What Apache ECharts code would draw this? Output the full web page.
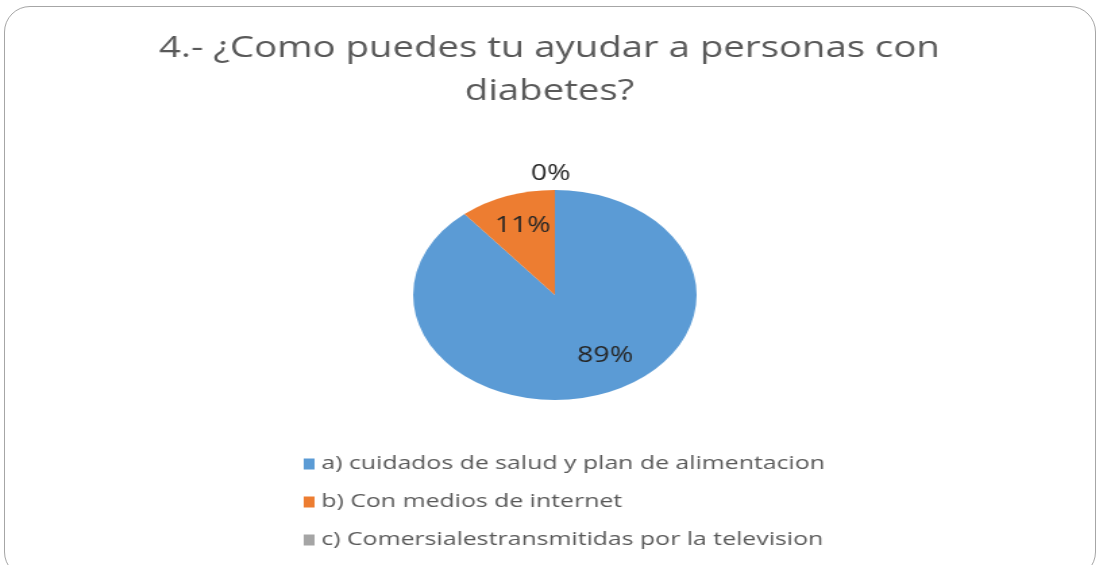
<!DOCTYPE html>
<html>
<head>
<meta charset="utf-8">
<script src="https://cdn.jsdelivr.net/npm/echarts@6/dist/echarts.min.js"></script>
<style>
  html, body { margin: 0; padding: 0; background: #fff; overflow: hidden; }
  #frame {
    position: absolute; left: 4px; top: 6px; width: 1092px; height: 572px;
    border: 1px solid #a6a6a6; border-radius: 26px; box-sizing: border-box;
  }
  /* the original picture is stretched sideways, so the chart is too */
  #chart {
    position: absolute; left: 0; top: 0; width: 814px; height: 565px;
    transform: scaleX(1.35); transform-origin: 0 0;
  }
</style>
</head>
<body>
<div id="frame"></div>
<div id="chart"></div>
<script>
const titleText = '4.- ¿Como puedes tu ayudar a personas con\ndiabetes?';
const categories = [
  'a) cuidados de salud y plan de alimentacion',
  'b) Con medios de internet',
  'c) Comersialestransmitidas por la television'
];
const values = [89, 11, 0];
const colors = ['#5b9bd5', '#ed7d31', '#a5a5a5'];

// nudges so the percent labels sit where the original puts them
const labelPads = [[0, 0, 0, 37], [0, 10, 0, 0], [0, 0, 0, 0]];
const labelFormats = ['\n{d}%', '{d}%\n', '{d}%'];
const labelLineHeights = [17, 33, 21];

const chart = echarts.init(document.getElementById('chart'));

const pieData = categories.map(function (name, i) {
  const item = {
    name: name,
    value: values[i],
    label: {
      padding: labelPads[i],
      formatter: labelFormats[i],
      lineHeight: labelLineHeights[i]
    }
  };
  if (values[i] === 0) {
    // an empty slice keeps no room inside, so its label goes above the pie
    item.label.position = 'outside';
    item.labelLine = { show: false, length: 15.5, length2: -16.5 };
  }
  return item;
});

const option = {
  color: colors,
  title: {
    text: titleText,
    left: 'center',
    top: 22,
    textStyle: {
      fontFamily: 'Open Sans',
      fontSize: 28.4,
      fontWeight: 'normal',
      color: '#595959',
      lineHeight: 43
    }
  },
  legend: {
    orient: 'vertical',
    left: 220,
    top: 450,
    itemWidth: 8,
    itemHeight: 11,
    itemGap: 20,
    icon: 'rect',
    textStyle: {
      fontFamily: 'Open Sans',
      fontSize: 18.4,
      color: '#595959'
    },
    data: categories
  },
  series: [{
    type: 'pie',
    center: [411, 295],
    radius: [0, 105],
    startAngle: 90,
    clockwise: true,
    avoidLabelOverlap: false,
    label: {
      show: true,
      position: 'inside',
      fontFamily: 'Open Sans',
      fontSize: 21,
      color: '#262626'
    },
    labelLine: { show: false },
    itemStyle: { borderWidth: 0 },
    emphasis: { disabled: true },
    data: pieData
  }]
};
chart.setOption(option);
</script>
</body>
</html>
